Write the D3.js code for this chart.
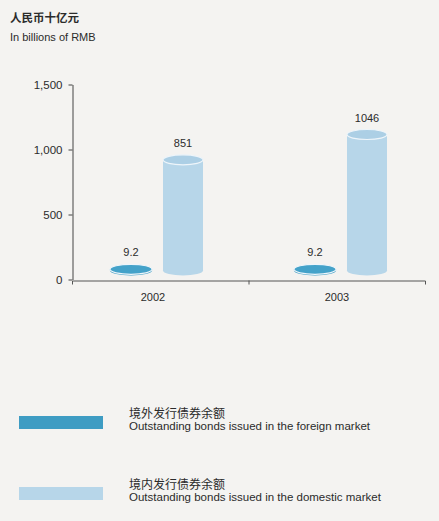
<!DOCTYPE html>
<html>
<head>
<meta charset="utf-8">
<script src="https://cdn.jsdelivr.net/npm/d3@7"></script>
<style>
  html, body { margin: 0; padding: 0; background: #f4f3f1; }
  svg { display: block; }
  text { font-family: "Liberation Sans", Arial, sans-serif; fill: #2b2b2b; }
  .cjk { font-family: "Noto Sans CJK SC", sans-serif; }
</style>
</head>
<body>
<div id="chart"></div>
<script>
// chart values
var years = ["2002", "2003"];
var foreignBonds = [9.2, 9.2];
var domesticBonds = [851, 1046];
var yTicks = [0, 500, 1000, 1500];
var seriesKeys = ["foreign", "domestic"];
var legendZh = ["境外发行债券余额", "境内发行债券余额"];
var legendEn = ["Outstanding bonds issued in the foreign market",
                "Outstanding bonds issued in the domestic market"];

function init()
{
    var w = 439;
    var h = 521;
    var colors = { foreign: "#3e9cc3", domestic: "#b7d6e9" };
    var topColors = { foreign: "#44a2c9", domestic: "#accfe5" };

    var svg = d3.select("#chart")
                .append("svg")
                .attr("width", w)
                .attr("height", h);

    svg.append("rect")
        .attr("width", w)
        .attr("height", h)
        .attr("fill", "#f4f3f1");

    // unit titles
    svg.append("text")
        .attr("class", "cjk")
        .attr("x", 10)
        .attr("y", 22)
        .style("font-size", "11.5px")
        .style("font-weight", "bold")
        .text("人民币十亿元");

    svg.append("text")
        .attr("x", 10)
        .attr("y", 41)
        .style("font-size", "11px")
        .text("In billions of RMB");

    var y = d3.scaleLinear()
              .domain([0, 1500])
              .range([279.5, 84.5]);

    // axis bands, and the slightly uneven group centres of the original
    var x = d3.scaleBand()
              .domain(years)
              .range([72, 425]);

    var xc = d3.scalePoint()
               .domain(years)
               .range([153, 337]);

    var x1 = d3.scaleOrdinal()
               .domain(seriesKeys)
               .range([-22, 30]);

    // y axis
    var yAxis = svg.append("g")
        .attr("transform", "translate(72.5,0)")
        .call(d3.axisLeft(y)
                .tickValues(yTicks)
                .tickSize(4)
                .tickSizeOuter(0)
                .tickPadding(6)
                .tickFormat(d3.format(",")));
    yAxis.select(".domain").attr("stroke", "#444");
    yAxis.selectAll(".tick line").attr("stroke", "#444");
    yAxis.selectAll("text")
        .style("font-size", "11.5px")
        .attr("fill", "#2b2b2b");

    // x axis line with end ticks
    var xAxis = svg.append("g")
        .attr("transform", "translate(0,280.5)")
        .call(d3.axisBottom(x)
                .tickSizeInner(0)
                .tickSizeOuter(4)
                .tickFormat(""));
    xAxis.select(".domain").attr("stroke", "#555");

    // boundary tick between the years
    svg.append("line")
        .attr("x1", x(years[1]) + 0.5)
        .attr("x2", x(years[1]) + 0.5)
        .attr("y1", 280.5)
        .attr("y2", 284.5)
        .attr("stroke", "#555");

    svg.selectAll("text.year")
        .data(years)
        .enter()
        .append("text")
        .attr("class", "year")
        .attr("x", function(d) { return xc(d); })
        .attr("y", 301)
        .attr("text-anchor", "middle")
        .style("font-size", "11px")
        .text(function(d) { return d; });

    // cylinders
    var rows = [];
    years.forEach(function(yr, i) {
        rows.push({ year: yr, key: "foreign", value: foreignBonds[i] });
        rows.push({ year: yr, key: "domestic", value: domesticBonds[i] });
    });

    var ry = 5;
    var lift = 9;
    function halfW(d) { return d.key === "foreign" ? 21 : 20; }

    var bars = svg.selectAll("g.bar")
        .data(rows)
        .enter()
        .append("g")
        .attr("class", "bar")
        .attr("transform", function(d) {
            return "translate(" + (xc(d.year) + x1(d.key)) + ",0)";
        });

    bars.append("ellipse")
        .attr("cx", 0)
        .attr("cy", function(d) { return y(0) - lift; })
        .attr("rx", halfW)
        .attr("ry", ry)
        .attr("fill", function(d) { return colors[d.key]; });

    bars.append("rect")
        .attr("x", function(d) { return -halfW(d); })
        .attr("y", function(d) { return y(d.value) - lift; })
        .attr("width", function(d) { return 2 * halfW(d); })
        .attr("height", function(d) { return y(0) - y(d.value); })
        .attr("fill", function(d) { return colors[d.key]; });

    bars.append("ellipse")
        .attr("cx", 0)
        .attr("cy", function(d) { return y(d.value) - lift; })
        .attr("rx", halfW)
        .attr("ry", ry)
        .attr("fill", function(d) { return topColors[d.key]; })
        .attr("stroke", "#eef5fa")
        .attr("stroke-width", 1.2);

    bars.append("text")
        .attr("x", 0)
        .attr("y", function(d) { return y(d.value) - lift - 13; })
        .attr("text-anchor", "middle")
        .style("font-size", "11px")
        .text(function(d) { return d.value; });

    // legend
    var legend = svg.selectAll("g.legend")
        .data(seriesKeys)
        .enter()
        .append("g")
        .attr("class", "legend")
        .attr("transform", function(d, i) {
            return "translate(0," + (416 + i * 71) + ")";
        });

    legend.append("rect")
        .attr("x", 19)
        .attr("y", 0)
        .attr("width", 84)
        .attr("height", 13)
        .attr("fill", function(d) { return colors[d]; });

    legend.append("text")
        .attr("class", "cjk")
        .attr("x", 129)
        .attr("y", 2)
        .style("font-size", "12px")
        .text(function(d, i) { return legendZh[i]; });

    legend.append("text")
        .attr("x", 129)
        .attr("y", 14)
        .style("font-size", "11.5px")
        .text(function(d, i) { return legendEn[i]; });
}
window.onload = init;
</script>
</body>
</html>
